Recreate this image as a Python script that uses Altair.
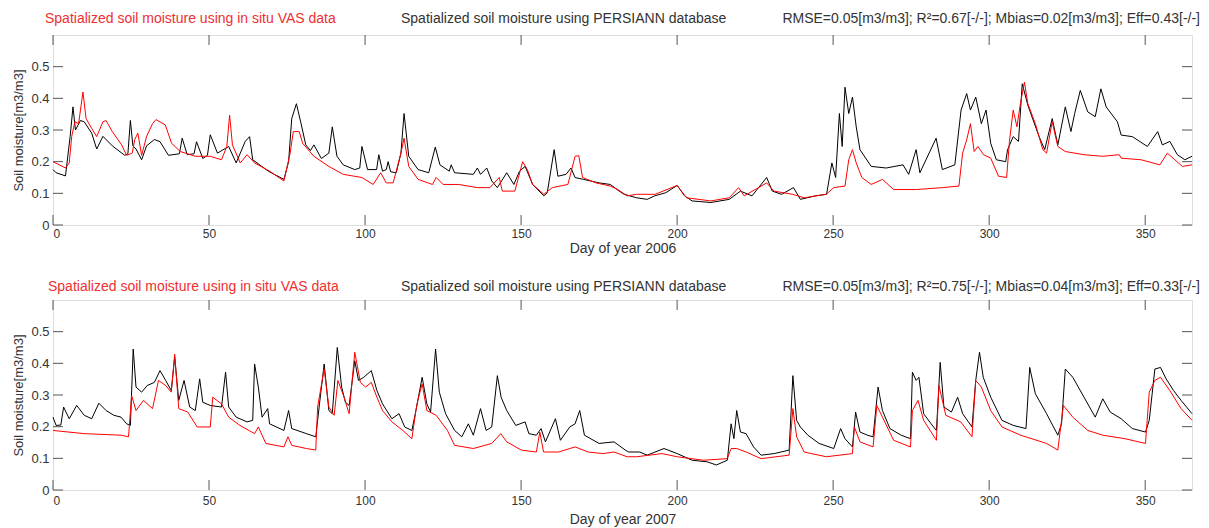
import altair as alt
import pandas as pd

# ---------------- data ----------------
x_ticks = [0, 50, 100, 150, 200, 250, 300, 350]
y_ticks = [0, 0.1, 0.2, 0.3, 0.4, 0.5]

title_vas = "Spatialized soil moisture using in situ VAS data"
title_persiann = "Spatialized soil moisture using PERSIANN database"
stats_2006 = "RMSE=0.05[m3/m3]; R²=0.67[-/-]; Mbias=0.02[m3/m3]; Eff=0.43[-/-]"
stats_2007 = "RMSE=0.05[m3/m3]; R²=0.75[-/-]; Mbias=0.04[m3/m3]; Eff=0.33[-/-]"
xlabel_2006 = "Day of year 2006"
xlabel_2007 = "Day of year 2007"
ylabel = "Soil moisture[m3/m3]"

# (day, soil moisture) — PERSIANN based (black), 2006
persiann_2006 = [
    (0, 0.175), (1, 0.165), (4, 0.155), (5.5, 0.28), (6.4, 0.373), (7.2, 0.30), (8.8, 0.33), (10, 0.326),
    (12.4, 0.29), (14, 0.24), (16, 0.28), (19, 0.25), (23, 0.22), (24, 0.225), (24.8, 0.33), (25.6, 0.25),
    (26.6, 0.24), (28.4, 0.206), (30, 0.25), (32.5, 0.27), (34.3, 0.263), (37, 0.22), (40.5, 0.225),
    (41.4, 0.274), (43, 0.222), (45.2, 0.225), (46, 0.263), (48, 0.21), (49.5, 0.22), (50.4, 0.285),
    (52.7, 0.227), (56.3, 0.248), (58.7, 0.196), (61.6, 0.264), (63, 0.279), (64, 0.206), (69, 0.17),
    (74, 0.144), (75.5, 0.2), (76.5, 0.336), (78, 0.383), (79.5, 0.32), (81, 0.253), (82.5, 0.235),
    (83.6, 0.253), (86, 0.21), (88.4, 0.227), (89.5, 0.31), (91, 0.217), (93, 0.19), (96.7, 0.175),
    (98.3, 0.18), (99, 0.248), (100.8, 0.175), (103.7, 0.175), (104.4, 0.222), (105.6, 0.17),
    (106.8, 0.175), (107.4, 0.2), (108.2, 0.168), (110, 0.165), (111.5, 0.227), (112.5, 0.352),
    (114, 0.217), (117, 0.175), (120.4, 0.165), (122.5, 0.246), (124, 0.19), (127, 0.17), (127.6, 0.19),
    (128.7, 0.165), (134.7, 0.16), (136, 0.18), (137, 0.16), (139, 0.18), (140.6, 0.139), (142.4, 0.118),
    (145.4, 0.165), (147.7, 0.128), (149.5, 0.17), (151.3, 0.185), (153.7, 0.128), (157.3, 0.092),
    (158.4, 0.102), (160.6, 0.238), (161.8, 0.154), (164.4, 0.16), (166, 0.18), (167.3, 0.15),
    (170, 0.144), (175, 0.133), (178.6, 0.128), (181, 0.11), (183, 0.097),
    (187, 0.086), (190.4, 0.081), (192.8, 0.092), (196.4, 0.102), (200, 0.125), (202.4, 0.092),
    (204.8, 0.076), (210.8, 0.071), (216.7, 0.081), (220.3, 0.107), (224, 0.092), (228.7, 0.15),
    (230.5, 0.107), (233.5, 0.097), (237.3, 0.118), (239.5, 0.081), (244.3, 0.092), (247.9, 0.097),
    (249.6, 0.196), (250.8, 0.15), (252, 0.352), (252.9, 0.248), (253.8, 0.435), (255, 0.352),
    (256.2, 0.404), (257.4, 0.31), (258.6, 0.238), (262.2, 0.185), (267, 0.18), (272.4, 0.19),
    (274.2, 0.16), (276.6, 0.238), (277.8, 0.165), (283, 0.274), (285, 0.175), (289, 0.19),
    (291, 0.363), (292.8, 0.415), (294, 0.363), (295.7, 0.404), (297.5, 0.32), (299, 0.363),
    (300.5, 0.258), (302.3, 0.206), (305.3, 0.2), (305.9, 0.238), (307.7, 0.279), (309.4, 0.264),
    (310.6, 0.446), (312.4, 0.378), (316, 0.279), (317.8, 0.238), (320.2, 0.336), (322, 0.253),
    (324.4, 0.373), (326.2, 0.295), (327.4, 0.352), (329.2, 0.425), (331.6, 0.357), (334, 0.342),
    (335.8, 0.43), (337.5, 0.373), (341.1, 0.326), (342.3, 0.284), (345.9, 0.279), (350.7, 0.248),
    (354, 0.295), (355.5, 0.253), (357.9, 0.264), (360.3, 0.222), (362.7, 0.206), (365, 0.217),
]

# (day, soil moisture) — in situ VAS based (red), 2006
vas_2006 = [
    (0, 0.2), (2, 0.19), (4, 0.18), (5.2, 0.196), (6, 0.28), (7, 0.326), (8.2, 0.32), (9.6, 0.42),
    (10.6, 0.336), (12.4, 0.305), (14, 0.279), (16, 0.326), (17, 0.33), (19, 0.295), (22, 0.253),
    (23.6, 0.22), (25.4, 0.227), (26.2, 0.27), (27.2, 0.29), (28.4, 0.22), (30, 0.28), (31.9, 0.32),
    (33, 0.333), (36, 0.316), (38, 0.258), (40.8, 0.232), (45.6, 0.217), (50.4, 0.217), (54, 0.206),
    (55.7, 0.248), (56.6, 0.347), (57.5, 0.253), (60, 0.196), (62.2, 0.222), (64.6, 0.196),
    (69.4, 0.17), (74, 0.139), (76, 0.227), (77, 0.295), (78.9, 0.295), (80, 0.258), (83.6, 0.217),
    (88.4, 0.185), (93, 0.16), (99, 0.15), (102.6, 0.128), (105, 0.165), (106.8, 0.133), (109, 0.133),
    (111.5, 0.227), (112.5, 0.274), (114, 0.185), (117, 0.144), (121.6, 0.128), (122.8, 0.15),
    (125, 0.128), (130, 0.128), (136, 0.118), (140, 0.118), (143, 0.15), (144, 0.107), (148, 0.107),
    (150.5, 0.2), (152, 0.175), (153.7, 0.128), (157.3, 0.097), (160, 0.118), (165, 0.128),
    (167.3, 0.217), (168.5, 0.219), (169.7, 0.15), (174, 0.133), (178.6, 0.123), (181, 0.112),
    (184, 0.092), (187, 0.097), (193, 0.097), (200, 0.125), (203, 0.086), (210.8, 0.076),
    (216.7, 0.086), (219.7, 0.118), (221.5, 0.092), (228.7, 0.133), (231, 0.107), (237, 0.097),
    (240.7, 0.086), (247.8, 0.097), (250.2, 0.118), (253.8, 0.123), (255, 0.206), (256.2, 0.238),
    (257.4, 0.196), (259.2, 0.15), (262.2, 0.128), (265.8, 0.144), (269.4, 0.112), (276.6, 0.112),
    (285, 0.118), (290.3, 0.123), (291.5, 0.227), (292.8, 0.269), (294, 0.32), (295.2, 0.232),
    (296.4, 0.248), (298.2, 0.222), (300.5, 0.211), (303, 0.154), (305.6, 0.15), (306.5, 0.264),
    (307.7, 0.363), (308.9, 0.31), (310, 0.383), (311.3, 0.451), (312.4, 0.383), (314.8, 0.32),
    (317.2, 0.238), (318.4, 0.227), (320.2, 0.326), (322, 0.248), (324.4, 0.232), (330.4, 0.222),
    (336.4, 0.217), (341.7, 0.222), (342.3, 0.211), (348.7, 0.206), (354.7, 0.19), (357.1, 0.227),
    (359.5, 0.206), (361.9, 0.185), (365, 0.19),
]

# (day, soil moisture) — PERSIANN based (black), 2007
persiann_2007 = [
    (0, 0.23), (1, 0.204), (2.5, 0.205), (3.4, 0.262), (5.2, 0.225), (7.6, 0.267), (10, 0.236),
    (12.4, 0.225), (14.7, 0.274), (17, 0.251), (19.5, 0.236), (21.8, 0.23), (23.6, 0.209),
    (24.8, 0.204), (25.7, 0.445), (26.6, 0.325), (28.4, 0.309), (30.2, 0.33), (32.5, 0.34),
    (34.3, 0.377), (36.1, 0.346), (37.9, 0.314), (39, 0.419), (40.3, 0.283), (42, 0.346),
    (43.8, 0.262), (45.6, 0.251), (47, 0.351), (48, 0.277), (50.4, 0.267), (54, 0.262), (55.3, 0.372),
    (56.3, 0.262), (58.7, 0.23), (62.2, 0.215), (64, 0.22), (64.6, 0.398), (65.8, 0.325), (67, 0.23),
    (68.8, 0.257), (69.4, 0.209), (74, 0.188), (75.5, 0.251), (76.5, 0.194), (81.2, 0.178),
    (84.2, 0.168), (85.4, 0.272), (86.9, 0.398), (88.4, 0.251), (89.5, 0.241), (91.1, 0.45),
    (92.5, 0.325), (93.7, 0.277), (94.9, 0.267), (96.7, 0.408), (97.9, 0.346), (99.6, 0.356),
    (102, 0.377), (103.8, 0.314), (105.6, 0.272), (108.6, 0.225), (110.9, 0.241), (112.7, 0.199),
    (115, 0.188), (116.3, 0.251), (118.3, 0.356), (119.8, 0.272), (121, 0.246), (122.6, 0.445),
    (123.8, 0.309), (125.8, 0.241), (128.7, 0.188), (131, 0.168), (133.1, 0.209), (134.7, 0.173),
    (137, 0.257), (138.8, 0.188), (140.6, 0.199), (142.4, 0.361), (143.6, 0.293), (145.4, 0.251),
    (148.3, 0.204), (151.3, 0.215), (152.5, 0.178), (154.9, 0.173), (156.4, 0.194), (157.8, 0.152),
    (161, 0.225), (162.6, 0.157), (165.6, 0.199), (167.3, 0.209), (168.8, 0.251), (170.3, 0.173),
    (175, 0.147), (179.8, 0.152), (183.4, 0.126), (184.5, 0.12), (188, 0.12), (190.4, 0.11),
    (195.8, 0.131), (200, 0.115), (204.8, 0.094), (209.6, 0.089), (212.6, 0.079), (216.1, 0.094),
    (217.3, 0.209), (218.2, 0.162), (219.1, 0.251), (220.3, 0.183), (222.1, 0.178), (224.5, 0.136),
    (226.9, 0.11), (231.1, 0.115), (235.9, 0.126), (237.1, 0.361), (238.3, 0.22), (239.5, 0.199),
    (241.9, 0.173), (245.5, 0.147), (250.2, 0.131), (252.4, 0.194), (253.8, 0.162), (256.2, 0.136),
    (257.2, 0.246), (258.6, 0.183), (261, 0.173), (262.8, 0.168), (264.4, 0.325), (265.8, 0.251),
    (268.2, 0.194), (271.8, 0.173), (274.8, 0.162), (275.4, 0.372), (276.6, 0.346), (277.5, 0.356),
    (279, 0.241), (281.4, 0.209), (283.1, 0.188), (284.3, 0.403), (285.5, 0.262), (287.9, 0.246),
    (289.9, 0.293), (291.5, 0.241), (294.5, 0.199), (295.7, 0.346), (296.9, 0.435), (298.1, 0.356),
    (300.5, 0.293), (304.1, 0.22), (307.7, 0.204), (311.8, 0.194), (313, 0.387), (314.8, 0.304),
    (318.4, 0.241), (322, 0.173), (323.2, 0.209), (324.4, 0.382), (326.8, 0.356), (330.4, 0.293),
    (334, 0.23), (336.4, 0.288), (338.8, 0.246), (342.3, 0.225), (345.9, 0.194), (350.1, 0.183),
    (351.3, 0.22), (353.1, 0.382), (354.9, 0.387), (356.7, 0.351), (359.1, 0.314), (361.5, 0.283),
    (365, 0.241),
]

# (day, soil moisture) — in situ VAS based (red), 2007
vas_2007 = [
    (0, 0.188), (10, 0.178), (21.8, 0.173), (24.2, 0.168), (25.2, 0.298), (26.6, 0.251), (29, 0.283),
    (31.9, 0.257), (33.8, 0.346), (36.1, 0.33), (37.9, 0.309), (39, 0.429), (40.3, 0.257),
    (43.2, 0.246), (46.2, 0.199), (50.4, 0.199), (51.2, 0.293), (54, 0.272), (56.3, 0.23),
    (59.9, 0.204), (64.6, 0.178), (65.8, 0.199), (68.2, 0.147), (74, 0.136), (75.3, 0.168),
    (76.5, 0.141), (81.2, 0.131), (84.2, 0.126), (84.8, 0.262), (86.9, 0.382), (88.4, 0.262),
    (90.1, 0.236), (91.3, 0.346), (93.1, 0.298), (94.9, 0.241), (96.7, 0.435), (98.5, 0.34),
    (100.2, 0.325), (102, 0.34), (103.8, 0.293), (105.6, 0.251), (108.6, 0.215), (112.1, 0.188),
    (115, 0.162), (116.3, 0.251), (116.9, 0.283), (118.3, 0.335), (119.8, 0.251), (122.8, 0.236),
    (126.4, 0.188), (128.7, 0.141), (134.7, 0.131), (140.6, 0.147), (143.5, 0.178), (145.4, 0.152),
    (150.1, 0.126), (154.9, 0.12), (156, 0.183), (157.2, 0.12), (162, 0.12), (167.3, 0.136),
    (171.5, 0.12), (176.2, 0.115), (179.8, 0.12), (184, 0.105), (187, 0.105), (195.2, 0.115),
    (200, 0.105), (208.4, 0.094), (216.1, 0.099), (217.3, 0.131), (219.1, 0.131), (222.1, 0.12),
    (226.9, 0.099), (235.9, 0.11), (237.1, 0.257), (238.3, 0.168), (240.7, 0.12), (247.8, 0.105),
    (256.2, 0.115), (256.8, 0.199), (258.6, 0.152), (262.8, 0.136), (264, 0.267), (265.8, 0.23),
    (269.4, 0.157), (274.8, 0.136), (275.4, 0.251), (277.2, 0.283), (279, 0.22), (283.1, 0.157),
    (283.9, 0.33), (286.1, 0.236), (290.9, 0.215), (294.5, 0.168), (295.7, 0.346), (297.5, 0.325),
    (300.5, 0.251), (304.1, 0.199), (310.1, 0.173), (318.4, 0.147), (322, 0.126), (323.8, 0.267),
    (326.8, 0.23), (331.6, 0.188), (336.4, 0.173), (343.5, 0.162), (350.1, 0.147), (351.3, 0.309),
    (353.1, 0.346), (354.9, 0.356), (357.9, 0.314), (361.5, 0.257), (365, 0.22),
]

# ---------------- chart ----------------
W, H = 1139, 190
FONT = "Liberation Sans"
AXIS_GREY = "#555555"
TEXT_GREY = "#333333"
RED = "#ff0000"

xscale = alt.Scale(domain=[0, 365], nice=False, zero=False)
yscale = alt.Scale(domain=[0, 0.6], nice=False)


def panel(black, red, xlabel, stats, title_dy, red_dx, xtitle_y, label_pad):
    dfb = pd.DataFrame(black, columns=["day", "sm"])
    dfr = pd.DataFrame(red, columns=["day", "sm"])

    x_axis = alt.Axis(values=x_ticks, tickSize=0, domain=False, grid=False, labelOverlap=False,
                      labelPadding=label_pad, labelFontSize=12, labelColor=TEXT_GREY,
                      labelFont=FONT, title=xlabel, titleFont=FONT, titleFontSize=14,
                      titleFontWeight="normal", titleColor=TEXT_GREY,
                      titleY=xtitle_y, titleBaseline="middle")
    y_axis = alt.Axis(values=y_ticks, format="~g", tickSize=0, domain=False, grid=False,
                      labelOverlap=False, labelPadding=4, labelFontSize=13,
                      labelColor=TEXT_GREY, labelFont=FONT,
                      title=ylabel, titleFont=FONT, titleFontSize=13, titleFontWeight="normal",
                      titleColor=TEXT_GREY, titleX=-35, titleY=H / 2, titleAngle=270,
                      titleAlign="center", titleBaseline="middle")
    x_enc = alt.X("day:Q", scale=xscale, axis=x_axis)
    y_enc = alt.Y("sm:Q", scale=yscale, axis=y_axis)

    black_line = alt.Chart(dfb).mark_line(color="#000000", strokeWidth=1).encode(x=x_enc, y=y_enc)
    red_line = alt.Chart(dfr).mark_line(color=RED, strokeWidth=1).encode(x=x_enc, y=y_enc)

    xt = pd.DataFrame({"day": x_ticks})
    yt = pd.DataFrame({"sm": y_ticks})
    tick_b = alt.Chart(xt).mark_rule(color=AXIS_GREY).encode(
        x=x_enc, y=alt.value(H), y2=alt.value(H - 10))
    tick_t = alt.Chart(xt).mark_rule(color=AXIS_GREY).encode(
        x=x_enc, y=alt.value(0), y2=alt.value(10))
    tick_l = alt.Chart(yt).mark_rule(color=AXIS_GREY).encode(
        y=y_enc, x=alt.value(0), x2=alt.value(10))
    tick_r = alt.Chart(yt).mark_rule(color=AXIS_GREY).encode(
        y=y_enc, x=alt.value(W), x2=alt.value(W - 10))

    t_red = alt.Chart(pd.DataFrame({"t": [title_vas]})).mark_text(
        align="left", baseline="middle", font=FONT, fontSize=14, color="#ee3030").encode(
        text="t:N", x=alt.value(red_dx), y=alt.value(title_dy))
    t_mid = alt.Chart(pd.DataFrame({"t": [title_persiann]})).mark_text(
        align="left", baseline="middle", font=FONT, fontSize=14, color=TEXT_GREY).encode(
        text="t:N", x=alt.value(348), y=alt.value(title_dy))
    t_stats = alt.Chart(pd.DataFrame({"t": [stats]})).mark_text(
        align="right", baseline="middle", font=FONT, fontSize=14, color=TEXT_GREY).encode(
        text="t:N", x=alt.value(W + 8), y=alt.value(title_dy))

    return alt.layer(black_line, red_line, tick_b, tick_t, tick_l, tick_r,
                     t_red, t_mid, t_stats).properties(width=W, height=H)


top = panel(persiann_2006, vas_2006, xlabel_2006, stats_2006, -16, -8, 23, 3)
bottom = panel(persiann_2007, vas_2007, xlabel_2007, stats_2007, -13, -5, 29, 5)

chart = alt.vconcat(top, bottom, spacing=23).properties(
    padding={"left": 11, "top": 11, "right": 0, "bottom": 0}
).configure_view(stroke=AXIS_GREY, strokeWidth=1).configure(background="white")

chart.save("out.html", embed_options={"renderer": "svg", "actions": False})
